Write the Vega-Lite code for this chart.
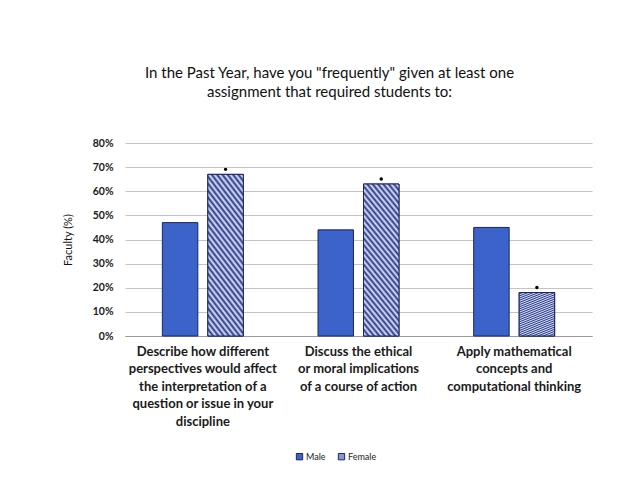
{
  "$schema": "https://vega.github.io/schema/vega-lite/v6.json",
  "width": 467,
  "height": 193,
  "autosize": {"type": "none"},
  "padding": {"left": 125, "top": 143, "right": 50, "bottom": 165},
  "background": "white",
  "config": {"view": {"stroke": null}, "font": "Lato"},
  "title": {
    "text": ["In the Past Year, have you \"frequently\" given at least one", "assignment that required students to:"],
    "fontSize": 15,
    "fontWeight": "normal",
    "font": "Lato",
    "color": "#111",
    "lineHeight": 19,
    "anchor": "middle",
    "dx": -29,
    "offset": 38
  },
  "data": {
    "values": [
      {"item": "Describe how different|perspectives would affect|the interpretation of a|question or issue in your|discipline", "gender": "Male", "pct": 0.47, "sig": false},
      {"item": "Describe how different|perspectives would affect|the interpretation of a|question or issue in your|discipline", "gender": "Female", "pct": 0.67, "sig": true},
      {"item": "Discuss the ethical|or moral implications|of a course of action", "gender": "Male", "pct": 0.44, "sig": false},
      {"item": "Discuss the ethical|or moral implications|of a course of action", "gender": "Female", "pct": 0.63, "sig": true},
      {"item": "Apply mathematical|concepts and|computational thinking", "gender": "Male", "pct": 0.45, "sig": false},
      {"item": "Apply mathematical|concepts and|computational thinking", "gender": "Female", "pct": 0.18, "sig": true}
    ]
  },
  "encoding": {
    "x": {
      "field": "item", "type": "nominal", "sort": null,
      "scale": {"paddingInner": 0.48, "paddingOuter": 0.24},
      "axis": {
        "title": null, "labelAngle": 0, "ticks": false,
        "labelExpr": "split(datum.label, '|')",
        "labelFontSize": 13, "labelFontWeight": "bold", "labelColor": "#1a1a1a",
        "labelLineHeight": 17.5, "labelPadding": 9, "labelLimit": 0,
        "domainColor": "#9a9a9a", "labelFont": "Lato"
      }
    },
    "xOffset": {"field": "gender", "type": "nominal", "sort": ["Male", "Female"], "scale": {"paddingInner": 0.22, "paddingOuter": 0}},
    "y": {
      "field": "pct", "type": "quantitative",
      "scale": {"domain": [0, 0.8]},
      "axis": {
        "title": "Faculty (%)", "titleFontSize": 11, "titleFontWeight": "normal", "titleColor": "#111", "titlePadding": 19,
        "values": [0, 0.1, 0.2, 0.3, 0.4, 0.5, 0.6, 0.7, 0.8],
        "format": ".0%", "labelFontSize": 10.5, "labelFontWeight": "bold", "labelColor": "#1a1a1a",
        "labelPadding": 12, "ticks": false, "domain": false,
        "gridColor": "#b5b5b5", "gridWidth": 0.8
      }
    }
  },
  "layer": [
    {
      "mark": {"type": "bar", "stroke": "#1c2660", "strokeWidth": 1},
      "encoding": {
        "color": {
          "field": "gender", "type": "nominal", "sort": ["Male", "Female"],
          "scale": {"domain": ["Male", "Female"], "range": ["#3b63c9", "#8794d0"]},
          "legend": {
            "title": null, "orient": "none", "direction": "horizontal",
            "legendX": 170, "legendY": 309,
            "symbolType": "square", "symbolSize": 40, "symbolStrokeColor": "#1c2660", "symbolStrokeWidth": 1,
            "labelFontSize": 9, "labelColor": "#222", "columnPadding": 10, "symbolOffset": 0, "labelOffset": 2
          }
        }
      }
    },
    {
      "transform": [{"filter": "datum.gender === 'Female'"}],
      "mark": {
        "type": "bar", "stroke": "#1c2660", "strokeWidth": 1,
        "fill": {
          "gradient": "linear", "x1": 0, "y1": 1, "x2": 0.34, "y2": -0.19,
          "stops": [
            {"offset": 0, "color": "#24368f"}, {"offset": 0.0167, "color": "#e2e6f6"},
            {"offset": 0.0333, "color": "#24368f"}, {"offset": 0.05, "color": "#e2e6f6"},
            {"offset": 0.0667, "color": "#24368f"}, {"offset": 0.0833, "color": "#e2e6f6"},
            {"offset": 0.1, "color": "#24368f"}, {"offset": 0.1167, "color": "#e2e6f6"},
            {"offset": 0.1333, "color": "#24368f"}, {"offset": 0.15, "color": "#e2e6f6"},
            {"offset": 0.1667, "color": "#24368f"}, {"offset": 0.1833, "color": "#e2e6f6"},
            {"offset": 0.2, "color": "#24368f"}, {"offset": 0.2167, "color": "#e2e6f6"},
            {"offset": 0.2333, "color": "#24368f"}, {"offset": 0.25, "color": "#e2e6f6"},
            {"offset": 0.2667, "color": "#24368f"}, {"offset": 0.2833, "color": "#e2e6f6"},
            {"offset": 0.3, "color": "#24368f"}, {"offset": 0.3167, "color": "#e2e6f6"},
            {"offset": 0.3333, "color": "#24368f"}, {"offset": 0.35, "color": "#e2e6f6"},
            {"offset": 0.3667, "color": "#24368f"}, {"offset": 0.3833, "color": "#e2e6f6"},
            {"offset": 0.4, "color": "#24368f"}, {"offset": 0.4167, "color": "#e2e6f6"},
            {"offset": 0.4333, "color": "#24368f"}, {"offset": 0.45, "color": "#e2e6f6"},
            {"offset": 0.4667, "color": "#24368f"}, {"offset": 0.4833, "color": "#e2e6f6"},
            {"offset": 0.5, "color": "#24368f"}, {"offset": 0.5167, "color": "#e2e6f6"},
            {"offset": 0.5333, "color": "#24368f"}, {"offset": 0.55, "color": "#e2e6f6"},
            {"offset": 0.5667, "color": "#24368f"}, {"offset": 0.5833, "color": "#e2e6f6"},
            {"offset": 0.6, "color": "#24368f"}, {"offset": 0.6167, "color": "#e2e6f6"},
            {"offset": 0.6333, "color": "#24368f"}, {"offset": 0.65, "color": "#e2e6f6"},
            {"offset": 0.6667, "color": "#24368f"}, {"offset": 0.6833, "color": "#e2e6f6"},
            {"offset": 0.7, "color": "#24368f"}, {"offset": 0.7167, "color": "#e2e6f6"},
            {"offset": 0.7333, "color": "#24368f"}, {"offset": 0.75, "color": "#e2e6f6"},
            {"offset": 0.7667, "color": "#24368f"}, {"offset": 0.7833, "color": "#e2e6f6"},
            {"offset": 0.8, "color": "#24368f"}, {"offset": 0.8167, "color": "#e2e6f6"},
            {"offset": 0.8333, "color": "#24368f"}, {"offset": 0.85, "color": "#e2e6f6"},
            {"offset": 0.8667, "color": "#24368f"}, {"offset": 0.8833, "color": "#e2e6f6"},
            {"offset": 0.9, "color": "#24368f"}, {"offset": 0.9167, "color": "#e2e6f6"},
            {"offset": 0.9333, "color": "#24368f"}, {"offset": 0.95, "color": "#e2e6f6"},
            {"offset": 0.9667, "color": "#24368f"}, {"offset": 0.9833, "color": "#e2e6f6"},
            {"offset": 1, "color": "#24368f"}
          ]
        }
      }
    },
    {
      "transform": [{"filter": "datum.sig"}],
      "mark": {"type": "point", "filled": true, "size": 12, "color": "#000", "opacity": 1, "yOffset": -5}
    }
  ]
}
